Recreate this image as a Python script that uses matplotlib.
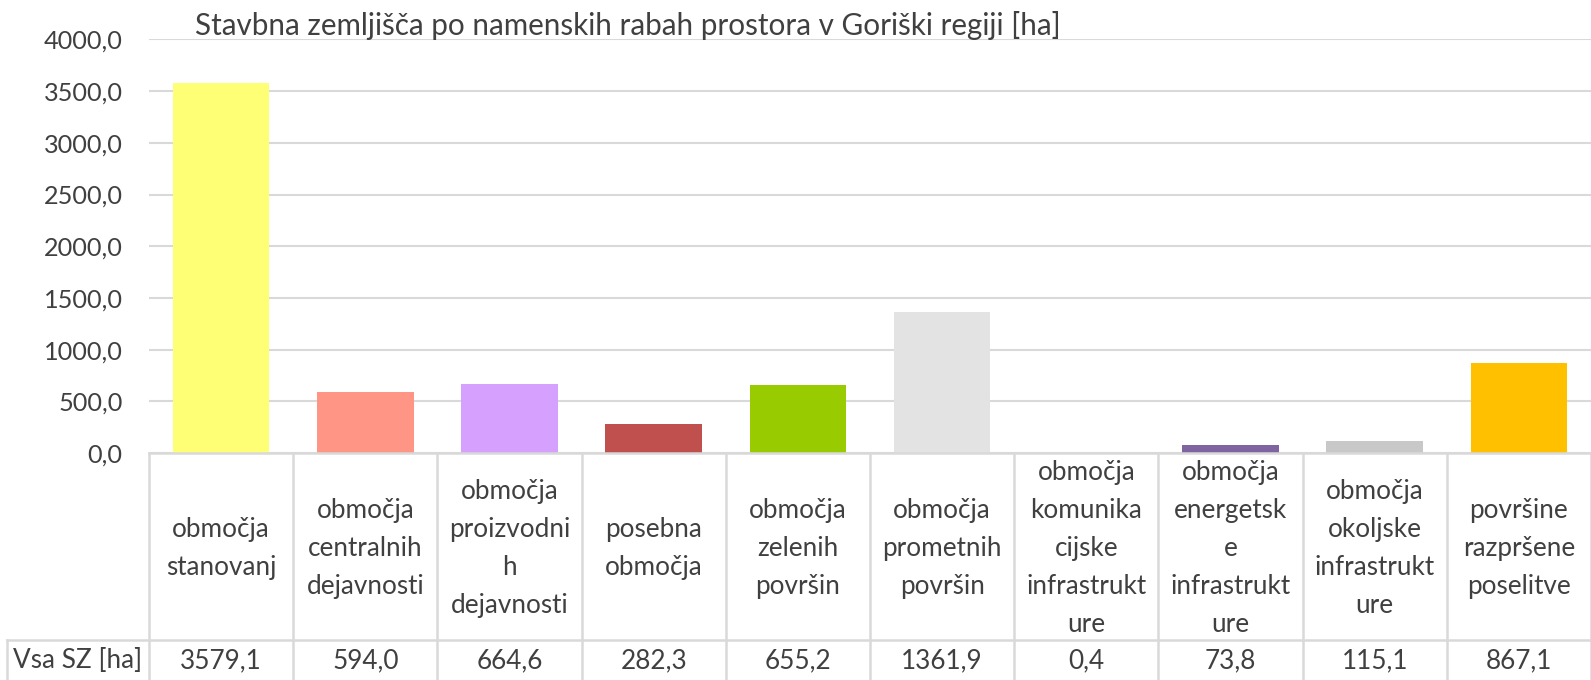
import numpy as np
import matplotlib
matplotlib.use("Agg")
import matplotlib.pyplot as plt
from matplotlib.ticker import FuncFormatter
from matplotlib.lines import Line2D

plt.rcParams['font.family'] = ['Lato', 'DejaVu Sans']

# Stavbna zemljišča po namenskih rabah (ha)
kategorije = [
    "območja\nstanovanj",
    "območja\ncentralnih\ndejavnosti",
    "območja\nproizvodni\nh\ndejavnosti",
    "posebna\nobmočja",
    "območja\nzelenih\npovršin",
    "območja\nprometnih\npovršin",
    "območja\nkomunika\ncijske\ninfrastrukt\nure",
    "območja\nenergetsk\ne\ninfrastrukt\nure",
    "območja\nokoljske\ninfrastrukt\nure",
    "površine\nrazpršene\nposelitve",
]
vrednosti = [3579.1, 594.0, 664.6, 282.3, 655.2, 1361.9, 0.4, 73.8, 115.1, 867.1]
barve = ["#FFFF75", "#FF9685", "#D6A0FF", "#C0504D", "#99CC00",
         "#E3E3E3", "#4BACC6", "#8064A2", "#C8C8C8", "#FFC000"]
oznaka_vrstice = "Vsa SZ [ha]"
naslov = "Stavbna zemljišča po namenskih rabah prostora v Goriški regiji [ha]"

W, H = 1591, 680
TXT = "#404040"
MREZA = "#D9D9D9"
FS = 18.8

fig = plt.figure(figsize=(W / 100, H / 100), dpi=100)

# polozaji v pikslih
x_lev, x_des = 149, 1591
y_nic, y_vrh = 453, 39.4
y_kat, y_dno = 640, 680
x_tab = 7

ax = fig.add_axes([x_lev / W, 1 - y_nic / H, (x_des - x_lev) / W, (y_nic - y_vrh) / H])
x = np.arange(len(vrednosti))
ax.bar(x, vrednosti, width=0.67, color=barve, zorder=3)
ax.set_xlim(-0.5, len(vrednosti) - 0.5)
ax.set_ylim(0, 4000)
ax.set_yticks(np.arange(0, 4001, 500))
ax.yaxis.set_major_formatter(FuncFormatter(lambda v, p: f"{v:.1f}".replace(".", ",")))
ax.tick_params(axis='y', length=0, pad=19, labelsize=18.2, labelcolor=TXT)
ax.set_xticks([])
for s in ax.spines.values():
    s.set_visible(False)
ax.grid(axis='y', color=MREZA, linewidth=1.5, zorder=0)
ax.set_axisbelow(True)

# naslov
fig.text(195 / W, 1 - 35 / H, naslov, fontsize=21.3, color=TXT, ha='left', va='baseline')

# tabela pod grafom
def fy(py):
    return 1 - py / H

def fx(px):
    return px / W

col_w = (x_des - x_lev) / len(vrednosti)
crte = []
for i in range(len(vrednosti) + 1):
    xx = x_lev + i * col_w
    crte.append(([fx(xx), fx(xx)], [fy(y_nic), fy(y_dno)]))
crte.append(([fx(x_tab), fx(x_des)], [fy(y_kat), fy(y_kat)]))
crte.append(([fx(x_tab), fx(x_tab)], [fy(y_kat), fy(y_dno)]))
crte.append(([fx(x_lev), fx(x_des)], [fy(y_nic), fy(y_nic)]))
for xs, ys in crte:
    fig.add_artist(Line2D(xs, ys, color=MREZA, linewidth=1.8, transform=fig.transFigure))

for i, (k, v) in enumerate(zip(kategorije, vrednosti)):
    cx = fx(x_lev + (i + 0.5) * col_w)
    fig.text(cx, fy((y_nic + y_kat) / 2 + 2), k, ha='center', va='center',
             fontsize=FS, color=TXT, linespacing=1.66)
    fig.text(cx, fy((y_kat + y_dno) / 2 + 1), f"{v:.1f}".replace(".", ","),
             ha='center', va='center', fontsize=FS, color=TXT)

fig.text(fx((x_tab + x_lev) / 2), fy((y_kat + y_dno) / 2 + 1), oznaka_vrstice,
         ha='center', va='center', fontsize=FS, color=TXT)

fig.savefig("out.png", dpi=100)
